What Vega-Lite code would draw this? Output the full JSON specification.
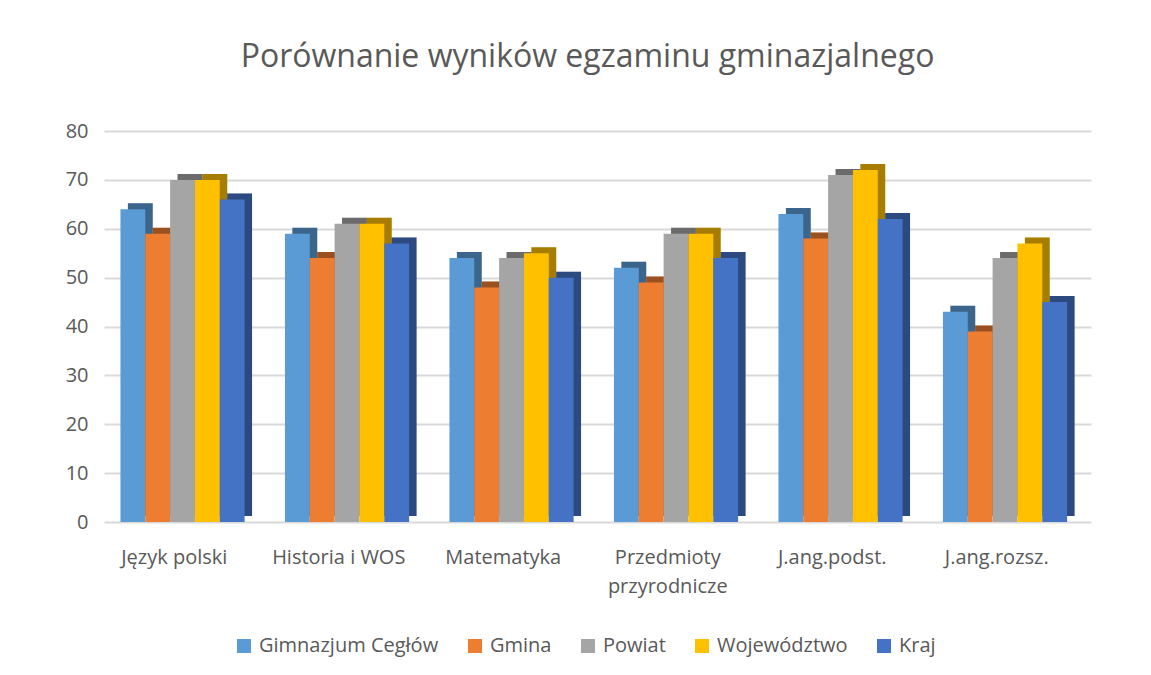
{
  "$schema": "https://vega.github.io/schema/vega-lite/v6.json",
  "autosize": {"type": "none"},
  "width": 987,
  "height": 391,
  "padding": {"left": 104, "top": 131, "right": 60, "bottom": 153},
  "background": "white",
  "title": {
    "text": "Porównanie wyników egzaminu gminazjalnego",
    "font": "Open Sans",
    "fontSize": 32,
    "fontWeight": "normal",
    "color": "#595959",
    "anchor": "middle",
    "dx": -10,
    "offset": 47
  },
  "data": {
    "values": [
      {"przedmiot": "Język polski", "seria": "Gimnazjum Cegłów", "wynik": 64},
      {"przedmiot": "Język polski", "seria": "Gmina", "wynik": 59},
      {"przedmiot": "Język polski", "seria": "Powiat", "wynik": 70},
      {"przedmiot": "Język polski", "seria": "Województwo", "wynik": 70},
      {"przedmiot": "Język polski", "seria": "Kraj", "wynik": 66},
      {"przedmiot": "Historia i WOS", "seria": "Gimnazjum Cegłów", "wynik": 59},
      {"przedmiot": "Historia i WOS", "seria": "Gmina", "wynik": 54},
      {"przedmiot": "Historia i WOS", "seria": "Powiat", "wynik": 61},
      {"przedmiot": "Historia i WOS", "seria": "Województwo", "wynik": 61},
      {"przedmiot": "Historia i WOS", "seria": "Kraj", "wynik": 57},
      {"przedmiot": "Matematyka", "seria": "Gimnazjum Cegłów", "wynik": 54},
      {"przedmiot": "Matematyka", "seria": "Gmina", "wynik": 48},
      {"przedmiot": "Matematyka", "seria": "Powiat", "wynik": 54},
      {"przedmiot": "Matematyka", "seria": "Województwo", "wynik": 55},
      {"przedmiot": "Matematyka", "seria": "Kraj", "wynik": 50},
      {"przedmiot": "Przedmioty przyrodnicze", "seria": "Gimnazjum Cegłów", "wynik": 52},
      {"przedmiot": "Przedmioty przyrodnicze", "seria": "Gmina", "wynik": 49},
      {"przedmiot": "Przedmioty przyrodnicze", "seria": "Powiat", "wynik": 59},
      {"przedmiot": "Przedmioty przyrodnicze", "seria": "Województwo", "wynik": 59},
      {"przedmiot": "Przedmioty przyrodnicze", "seria": "Kraj", "wynik": 54},
      {"przedmiot": "J.ang.podst.", "seria": "Gimnazjum Cegłów", "wynik": 63},
      {"przedmiot": "J.ang.podst.", "seria": "Gmina", "wynik": 58},
      {"przedmiot": "J.ang.podst.", "seria": "Powiat", "wynik": 71},
      {"przedmiot": "J.ang.podst.", "seria": "Województwo", "wynik": 72},
      {"przedmiot": "J.ang.podst.", "seria": "Kraj", "wynik": 62},
      {"przedmiot": "J.ang.rozsz.", "seria": "Gimnazjum Cegłów", "wynik": 43},
      {"przedmiot": "J.ang.rozsz.", "seria": "Gmina", "wynik": 39},
      {"przedmiot": "J.ang.rozsz.", "seria": "Powiat", "wynik": 54},
      {"przedmiot": "J.ang.rozsz.", "seria": "Województwo", "wynik": 57},
      {"przedmiot": "J.ang.rozsz.", "seria": "Kraj", "wynik": 45}
    ]
  },
  "encoding": {
    "x": {
      "field": "przedmiot",
      "type": "nominal",
      "sort": ["Język polski", "Historia i WOS", "Matematyka", "Przedmioty przyrodnicze", "J.ang.podst.", "J.ang.rozsz."],
      "scale": {"paddingInner": 0.2, "paddingOuter": 0.1},
      "axis": {
        "title": null,
        "labelAngle": 0,
        "domain": false,
        "ticks": false,
        "labelPadding": 25,
        "labelOffset": -12,
        "labelFont": "Open Sans",
        "labelFontSize": 20,
        "labelColor": "#595959",
        "labelLineHeight": 29,
        "labelExpr": "datum.label == 'Przedmioty przyrodnicze' ? ['Przedmioty', 'przyrodnicze'] : datum.label"
      }
    },
    "y": {
      "field": "wynik",
      "type": "quantitative",
      "scale": {"domain": [0, 80], "nice": false},
      "axis": {
        "title": null,
        "values": [0, 10, 20, 30, 40, 50, 60, 70, 80],
        "domain": false,
        "ticks": false,
        "labelPadding": 16,
        "labelFont": "Open Sans",
        "labelFontSize": 20,
        "labelColor": "#595959",
        "gridColor": "#d9d9d9",
        "gridWidth": 2
      }
    },
    "color": {
      "field": "seria",
      "type": "nominal",
      "sort": ["Gimnazjum Cegłów", "Gmina", "Powiat", "Województwo", "Kraj"],
      "scale": {
        "domain": ["Gimnazjum Cegłów", "Gmina", "Powiat", "Województwo", "Kraj"],
        "range": ["#5B9BD5", "#ED7D31", "#A5A5A5", "#FFC000", "#4472C4"]
      },
      "legend": {
        "title": null,
        "orient": "none",
        "legendX": 130,
        "legendY": 505,
        "direction": "horizontal",
        "symbolType": "square",
        "symbolSize": 196,
        "symbolStrokeWidth": 0,
        "symbolOpacity": 1,
        "labelFont": "Open Sans",
        "labelFontSize": 20,
        "labelColor": "#595959",
        "labelOffset": 5,
        "labelLimit": 0,
        "columnPadding": 26
      }
    }
  },
  "layer": [
    {
      "mark": {"type": "bar", "yOffset": -6, "y2Offset": -6},
      "encoding": {
        "xOffset": {
          "field": "seria",
          "type": "nominal",
          "sort": ["Gimnazjum Cegłów", "Gmina", "Powiat", "Województwo", "Kraj"],
          "scale": {"paddingInner": 0, "paddingOuter": 0.15, "align": 1}
        }
      }
    },
    {
      "mark": {"type": "bar", "yOffset": -6, "y2Offset": -6, "opacity": 0.35},
      "encoding": {
        "color": {"value": "black"},
        "xOffset": {
          "field": "seria",
          "type": "nominal",
          "sort": ["Gimnazjum Cegłów", "Gmina", "Powiat", "Województwo", "Kraj"],
          "scale": {"paddingInner": 0, "paddingOuter": 0.15, "align": 1}
        }
      }
    },
    {
      "mark": {"type": "bar"},
      "encoding": {
        "xOffset": {
          "field": "seria",
          "type": "nominal",
          "sort": ["Gimnazjum Cegłów", "Gmina", "Powiat", "Województwo", "Kraj"],
          "scale": {"paddingInner": 0, "paddingOuter": 0.15, "align": 0}
        }
      }
    }
  ],
  "resolve": {"scale": {"xOffset": "independent"}},
  "config": {"view": {"stroke": null}}
}
